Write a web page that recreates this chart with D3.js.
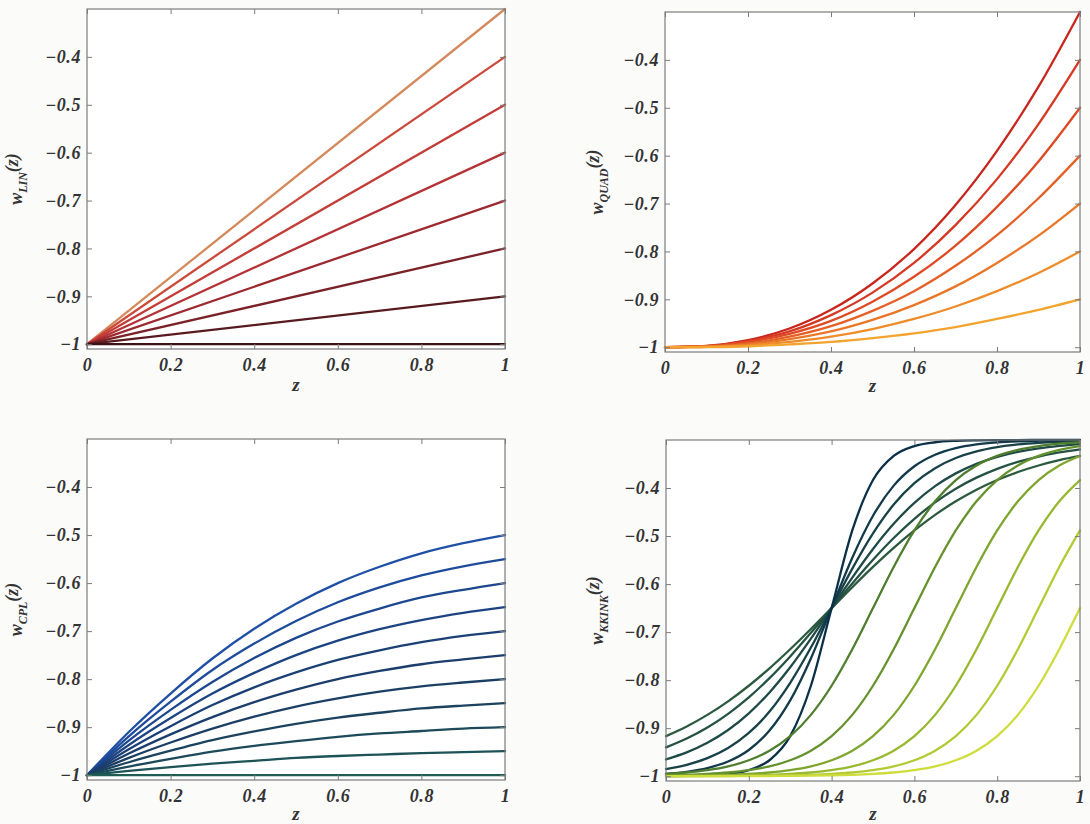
<!DOCTYPE html>
<html>
<head>
<meta charset="utf-8">
<script src="https://cdn.jsdelivr.net/npm/d3@7"></script>
<style>
  html, body { margin: 0; padding: 0; background: #fbfbfa; }
  svg { display: block; }
  text { font-family: "Liberation Serif", "DejaVu Serif", serif; font-style: italic; font-weight: 700; fill: #333333; }
</style>
</head>
<body>
<script>
// ---------------- data ----------------
const xTicks = [0, 0.2, 0.4, 0.6, 0.8, 1];
const xTickLabels = ["0", "0.2", "0.4", "0.6", "0.8", "1"];
const yTicks = [-1, -0.9, -0.8, -0.7, -0.6, -0.5, -0.4];
const yTickLabels = ["\u22121", "\u22120.9", "\u22120.8", "\u22120.7", "\u22120.6", "\u22120.5", "\u22120.4"];

// LIN: straight lines, z = 0 and z = 1
const zLin = [0, 1];
const linSeries = [
  [-1, -0.3], [-1, -0.4], [-1, -0.5], [-1, -0.6],
  [-1, -0.7], [-1, -0.8], [-1, -0.9], [-1, -1.0]
];
const linColors = ["#d48a5c", "#cc4a3a", "#c33c38", "#b53236", "#9c2a30", "#7a2228", "#581a1e", "#3c1216"];

// QUAD: z = 0 .. 1 step 0.1
const zQuad = [0, 0.1, 0.2, 0.3, 0.4, 0.5, 0.6, 0.7, 0.8, 0.9, 1.0];
const quadSeries = [
  [-1, -0.997, -0.985, -0.961, -0.922, -0.867, -0.795, -0.703, -0.590, -0.456, -0.3],
  [-1, -0.998, -0.987, -0.967, -0.933, -0.886, -0.824, -0.745, -0.649, -0.534, -0.4],
  [-1, -0.998, -0.989, -0.972, -0.945, -0.905, -0.853, -0.788, -0.707, -0.612, -0.5],
  [-1, -0.998, -0.992, -0.978, -0.956, -0.924, -0.883, -0.830, -0.766, -0.689, -0.6],
  [-1, -0.999, -0.994, -0.983, -0.967, -0.943, -0.912, -0.873, -0.824, -0.767, -0.7],
  [-1, -0.999, -0.996, -0.989, -0.978, -0.962, -0.941, -0.915, -0.883, -0.845, -0.8],
  [-1, -1.000, -0.998, -0.994, -0.989, -0.981, -0.971, -0.958, -0.941, -0.922, -0.9]
];
const quadColors = ["#c8261c", "#d63822", "#de4a24", "#e46026", "#ea7628", "#ee8c2a", "#f2a42e"];

// CPL: z = 0 .. 1 step 0.1
const zCpl = [0, 0.1, 0.2, 0.3, 0.4, 0.5, 0.6, 0.7, 0.8, 0.9, 1.0];
const cplSeries = [
  [-1, -0.910, -0.830, -0.757, -0.695, -0.643, -0.600, -0.566, -0.538, -0.517, -0.50],
  [-1, -0.919, -0.847, -0.781, -0.726, -0.679, -0.640, -0.609, -0.584, -0.565, -0.55],
  [-1, -0.928, -0.864, -0.806, -0.756, -0.714, -0.680, -0.653, -0.630, -0.614, -0.60],
  [-1, -0.937, -0.881, -0.830, -0.787, -0.750, -0.720, -0.696, -0.677, -0.662, -0.65],
  [-1, -0.946, -0.898, -0.854, -0.817, -0.786, -0.760, -0.740, -0.723, -0.710, -0.70],
  [-1, -0.955, -0.915, -0.879, -0.848, -0.822, -0.800, -0.783, -0.769, -0.759, -0.75],
  [-1, -0.964, -0.932, -0.903, -0.878, -0.857, -0.840, -0.826, -0.815, -0.807, -0.80],
  [-1, -0.973, -0.949, -0.927, -0.909, -0.893, -0.880, -0.870, -0.861, -0.855, -0.85],
  [-1, -0.982, -0.966, -0.951, -0.939, -0.929, -0.920, -0.913, -0.908, -0.903, -0.90],
  [-1, -0.991, -0.983, -0.976, -0.970, -0.964, -0.960, -0.957, -0.954, -0.952, -0.95],
  [-1, -1.000, -1.000, -1.000, -1.000, -1.000, -1.000, -1.000, -1.000, -1.000, -1.00]
];
const cplColors = ["#1f50a6", "#1e4b9a", "#1d478e", "#1c4382", "#1b4076", "#1b3e6c", "#1b3f64", "#1b435e", "#1c4a5a", "#1d5356", "#1f5d52"];

// KKINK: z = 0 .. 1 step 0.05
const zKink = [0, 0.05, 0.1, 0.15, 0.2, 0.25, 0.3, 0.35, 0.4, 0.45, 0.5,
               0.55, 0.6, 0.65, 0.7, 0.75, 0.8, 0.85, 0.9, 0.95, 1.0];
const kinkDarkSeries = [
  [-0.9166, -0.8964, -0.8723, -0.8441, -0.8117, -0.7754, -0.7357, -0.6935, -0.65, -0.6065, -0.5643, -0.5246, -0.4883, -0.4559, -0.4277, -0.4036, -0.3834, -0.3667, -0.3531, -0.342, -0.3332],
  [-0.94, -0.9216, -0.8986, -0.8701, -0.8359, -0.7959, -0.7506, -0.7014, -0.65, -0.5986, -0.5494, -0.5041, -0.4641, -0.4299, -0.4014, -0.3784, -0.36, -0.3456, -0.3345, -0.326, -0.3195],
  [-0.9649, -0.9504, -0.9305, -0.9039, -0.8692, -0.8256, -0.7732, -0.7136, -0.65, -0.5864, -0.5268, -0.4744, -0.4308, -0.3961, -0.3695, -0.3496, -0.3351, -0.3247, -0.3173, -0.3121, -0.3084],
  [-0.9851, -0.9763, -0.9624, -0.9413, -0.91, -0.8655, -0.8056, -0.7321, -0.65, -0.5679, -0.4944, -0.4345, -0.39, -0.3587, -0.3376, -0.3237, -0.3149, -0.3093, -0.3058, -0.3036, -0.3022],
  [-0.995, -0.9908, -0.9831, -0.9694, -0.9454, -0.905, -0.8422, -0.7548, -0.65, -0.5452, -0.4578, -0.395, -0.3546, -0.3306, -0.3169, -0.3092, -0.305, -0.3027, -0.3015, -0.3008, -0.3004],
  [-0.9998, -0.9994, -0.9983, -0.9953, -0.9874, -0.9668, -0.9166, -0.8117, -0.65, -0.4883, -0.3834, -0.3332, -0.3126, -0.3047, -0.3017, -0.3006, -0.3002, -0.3001, -0.3, -0.3, -0.3]
];
const kinkDarkColors = ["#2c5a3e", "#255242", "#1f4a46", "#184248", "#123a4a", "#0c3048"];
const kinkGreenSeries = [
  [-0.9953, -0.9923, -0.9874, -0.9795, -0.9668, -0.9469, -0.9166, -0.8723, -0.8117, -0.7357, -0.65, -0.5643, -0.4883, -0.4277, -0.3834, -0.3531, -0.3332, -0.3205, -0.3126, -0.3077, -0.3047],
  [-0.9983, -0.9972, -0.9953, -0.9923, -0.9874, -0.9795, -0.9668, -0.9469, -0.9166, -0.8723, -0.8117, -0.7357, -0.65, -0.5643, -0.4883, -0.4277, -0.3834, -0.3531, -0.3332, -0.3205, -0.3126],
  [-0.9994, -0.999, -0.9983, -0.9972, -0.9953, -0.9923, -0.9874, -0.9795, -0.9668, -0.9469, -0.9166, -0.8723, -0.8117, -0.7357, -0.65, -0.5643, -0.4883, -0.4277, -0.3834, -0.3531, -0.3332],
  [-0.9998, -0.9996, -0.9994, -0.999, -0.9983, -0.9972, -0.9953, -0.9923, -0.9874, -0.9795, -0.9668, -0.9469, -0.9166, -0.8723, -0.8117, -0.7357, -0.65, -0.5643, -0.4883, -0.4277, -0.3834],
  [-0.9999, -0.9999, -0.9998, -0.9996, -0.9994, -0.999, -0.9983, -0.9972, -0.9953, -0.9923, -0.9874, -0.9795, -0.9668, -0.9469, -0.9166, -0.8723, -0.8117, -0.7357, -0.65, -0.5643, -0.4883],
  [-1, -0.9999, -0.9999, -0.9999, -0.9998, -0.9996, -0.9994, -0.999, -0.9983, -0.9972, -0.9953, -0.9923, -0.9874, -0.9795, -0.9668, -0.9469, -0.9166, -0.8723, -0.8117, -0.7357, -0.65]
];
const kinkGreenColors = ["#4e7e2e", "#66922e", "#7ea62e", "#98b830", "#b4ca34", "#cedc3c"];

// ---------------- drawing ----------------
const W = 1090, H = 824;
const svg = d3.select("body").append("svg").attr("width", W).attr("height", H);

const panels = [
  { sub: "LIN",   left: 87,  right: 505,  top: 9,   bottom: 349, labelX: 22,  xLabelDy: 42, curve: d3.curveLinear,
    groups: [{ z: zLin, series: linSeries, colors: linColors }] },
  { sub: "QUAD",  left: 665, right: 1080, top: 12,  bottom: 352, labelX: 603, xLabelDy: 40, curve: d3.curveMonotoneX,
    groups: [{ z: zQuad, series: quadSeries, colors: quadColors }] },
  { sub: "CPL",   left: 87,  right: 505,  top: 439, bottom: 780, labelX: 22,  xLabelDy: 40, curve: d3.curveMonotoneX,
    groups: [{ z: zCpl, series: cplSeries, colors: cplColors }] },
  { sub: "KKINK", left: 666, right: 1080, top: 440, bottom: 781, labelX: 603, xLabelDy: 39, curve: d3.curveMonotoneX,
    groups: [{ z: zKink, series: kinkDarkSeries, colors: kinkDarkColors },
             { z: zKink, series: kinkGreenSeries, colors: kinkGreenColors }] }
];

panels.forEach(p => {
  const x = d3.scaleLinear().domain([0, 1]).range([p.left, p.right]);
  const y = d3.scaleLinear().domain([-1.01, -0.3]).range([p.bottom, p.top]);
  const g = svg.append("g");

  g.append("rect")
    .attr("x", p.left).attr("y", p.top)
    .attr("width", p.right - p.left).attr("height", p.bottom - p.top)
    .attr("fill", "#ffffff").attr("stroke", "none");

  const line = d3.line().curve(p.curve);
  p.groups.forEach(grp => {
    grp.series.forEach((vals, i) => {
      g.append("path")
        .attr("d", line(vals.map((v, k) => [x(grp.z[k]), y(v)])))
        .attr("fill", "none")
        .attr("stroke", grp.colors[i])
        .attr("stroke-width", 2.3)
        .attr("stroke-linejoin", "round")
        .attr("stroke-linecap", "round");
    });
  });

  const axCol = "#7c7c7c";
  const fontSize = 18;
  const bottomAx = d3.axisBottom(x).tickValues(xTicks)
    .tickFormat((d, i) => xTickLabels[i]).tickSizeInner(-5).tickSizeOuter(0).tickPadding(9);
  const topAx = d3.axisTop(x).tickValues(xTicks).tickFormat("").tickSizeInner(-5).tickSizeOuter(0);
  const leftAx = d3.axisLeft(y).tickValues(yTicks)
    .tickFormat((d, i) => yTickLabels[i]).tickSizeInner(-5).tickSizeOuter(0).tickPadding(6);
  const rightAx = d3.axisRight(y).tickValues(yTicks).tickFormat("").tickSizeInner(-5).tickSizeOuter(0);

  const styleAxis = sel => {
    sel.select(".domain").remove();
    sel.selectAll(".tick line").attr("stroke", axCol).attr("stroke-width", 1);
    sel.selectAll(".tick text")
      .attr("font-family", '"Liberation Serif", serif')
      .attr("font-style", "italic")
      .attr("font-weight", 700)
      .attr("font-size", fontSize)
      .attr("fill", "#333333")
      .attr("letter-spacing", "0.6px");
  };
  g.append("g").attr("transform", `translate(0,${p.bottom})`).call(bottomAx).call(styleAxis);
  g.append("g").attr("transform", `translate(0,${p.top})`).call(topAx).call(styleAxis);
  g.append("g").attr("transform", `translate(${p.left},0)`).call(leftAx).call(styleAxis);
  g.append("g").attr("transform", `translate(${p.right},0)`).call(rightAx).call(styleAxis);

  g.append("rect")
    .attr("x", p.left).attr("y", p.top)
    .attr("width", p.right - p.left).attr("height", p.bottom - p.top)
    .attr("fill", "none").attr("stroke", axCol).attr("stroke-width", 1.2);

  g.append("text")
    .attr("x", (p.left + p.right) / 2)
    .attr("y", p.bottom + p.xLabelDy)
    .attr("text-anchor", "middle")
    .attr("font-size", 19)
    .text("z");

  const cy = (p.top + p.bottom) / 2;
  const t = g.append("text")
    .attr("transform", `translate(${p.labelX},${cy}) rotate(-90)`)
    .attr("text-anchor", "middle")
    .attr("font-size", 18);
  t.append("tspan").text("w");
  t.append("tspan").attr("font-size", 12).attr("dy", 5).text(p.sub);
  t.append("tspan").attr("dy", -9).text("(z)");
});
</script>
</body>
</html>
